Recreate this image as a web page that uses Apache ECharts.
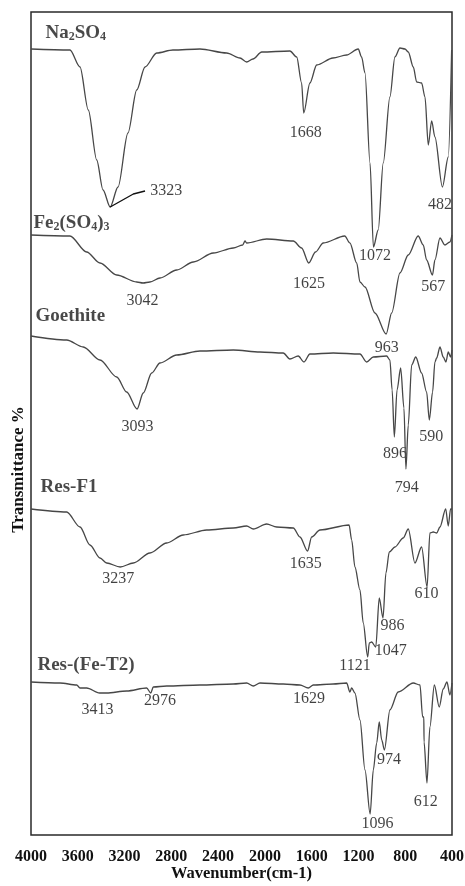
<!DOCTYPE html>
<html>
<head>
<meta charset="utf-8">
<style>
  html, body { margin: 0; padding: 0; background: #fff; }
  #chart { width: 465px; height: 886px; }
</style>
<script src="https://cdn.jsdelivr.net/npm/echarts@6/dist/echarts.min.js"></script>
</head>
<body>
<div id="chart"></div>
<script>
// wavenumber axis (cm-1)
const xTicks = [4000, 3600, 3200, 2800, 2400, 2000, 1600, 1200, 800, 400];

// stacked spectra, [wavenumber, transmittance (offset, a.u.)]
const na2so4 = [
  [4000, 78.6], [3667, 78.5], [3581, 76.8], [3510, 72.5], [3438, 67.5], [3384, 64.5],
  [3323, 62.8], [3256, 64.8], [3171, 70.2], [3096, 74.5], [3025, 76.8], [2925, 78.2],
  [2786, 78.5], [2555, 78.6], [2327, 78.2], [2213, 77.7], [2156, 77.3], [2102, 77.6],
  [2027, 78.3], [1786, 78.4], [1728, 77.8], [1686, 75.2], [1668, 72.2], [1615, 75.2],
  [1557, 77.0], [1418, 77.7], [1301, 78.0], [1202, 78.6], [1173, 77.8], [1144, 76.2],
  [1101, 67.2], [1072, 58.8], [1031, 60.5], [988, 67.2], [931, 73.8], [888, 77.8],
  [845, 78.7], [802, 78.6], [774, 78.3], [731, 76.8], [702, 75.3], [660, 75.2],
  [631, 73.8], [603, 69.0], [574, 71.4], [546, 69.8], [482, 64.8], [432, 67.8], [403, 78.5]
];

const fe2so43 = [
  [4000, 60.0], [3667, 59.9], [3524, 58.3], [3410, 57.2], [3267, 56.0], [3096, 55.3],
  [3042, 55.2], [2983, 55.3], [2897, 55.7], [2754, 56.5], [2612, 57.3], [2441, 58.2],
  [2270, 58.7], [2190, 59.0], [2170, 59.4], [2156, 59.2], [1985, 59.6], [1757, 59.4],
  [1686, 58.7], [1625, 57.2], [1567, 58.3], [1501, 59.2], [1317, 59.9], [1273, 59.2],
  [1215, 57.2], [1187, 55.3], [1144, 54.8], [1059, 52.2], [963, 50.1], [916, 52.2],
  [845, 56.2], [774, 58.0], [689, 59.9], [646, 59.0], [617, 57.5], [567, 56.0],
  [546, 57.5], [503, 59.7], [461, 59.0], [418, 59.3], [400, 60.0]
];

const goethite = [
  [4000, 49.9], [3695, 49.5], [3553, 48.8], [3410, 47.5], [3267, 45.8], [3182, 44.3],
  [3093, 42.6], [3040, 44.2], [2968, 46.2], [2897, 47.2], [2754, 48.0], [2555, 48.4],
  [2270, 48.5], [2042, 48.3], [1843, 48.2], [1786, 47.6], [1715, 47.9], [1666, 47.3],
  [1615, 48.1], [1415, 48.2], [1187, 48.1], [1130, 47.3], [1073, 47.8], [959, 47.9],
  [931, 47.5], [912, 44.5], [893, 39.8], [870, 44.5], [839, 46.7], [811, 42.7],
  [794, 36.6], [774, 41.0], [745, 47.0], [710, 47.8], [660, 46.2], [617, 44.3],
  [594, 41.5], [566, 44.3], [546, 47.3], [531, 47.7], [503, 48.8], [475, 47.8],
  [452, 47.3], [432, 48.3], [412, 47.8], [400, 48.5]
];

const resF1 = [
  [4000, 32.6], [3695, 32.3], [3581, 30.8], [3496, 29.0], [3410, 27.7], [3353, 27.2],
  [3237, 26.8], [3125, 27.2], [2983, 28.2], [2840, 29.2], [2698, 30.0], [2498, 30.5],
  [2270, 30.7], [2156, 30.9], [2099, 30.6], [1985, 31.1], [1899, 30.8], [1757, 30.7],
  [1700, 29.8], [1635, 28.4], [1600, 29.8], [1529, 30.5], [1280, 31.0], [1258, 29.5],
  [1230, 26.8], [1187, 24.5], [1159, 21.2], [1121, 17.8], [1107, 19.2], [1087, 19.3],
  [1052, 18.8], [1022, 23.7], [990, 21.7], [965, 26.2], [936, 28.3], [888, 28.8],
  [817, 29.7], [774, 30.6], [717, 27.2], [660, 28.8], [613, 24.8], [589, 30.2],
  [560, 30.3], [531, 30.2], [503, 30.8], [454, 32.6], [432, 30.9], [412, 32.6], [400, 32.6]
];

const resFeT2 = [
  [4000, 15.3], [3752, 15.2], [3609, 15.0], [3581, 14.7], [3524, 14.7], [3413, 14.2],
  [3353, 14.2], [3182, 14.4], [3011, 14.7], [2976, 14.2], [2954, 14.8], [2840, 14.9],
  [2555, 15.0], [2270, 15.1], [2156, 15.2], [2099, 14.9], [2042, 15.2], [1843, 15.1],
  [1700, 15.0], [1629, 14.7], [1586, 15.0], [1415, 15.1], [1301, 15.2], [1273, 14.3],
  [1258, 14.7], [1230, 14.2], [1187, 11.5], [1144, 6.5], [1100, 2.1], [1073, 6.5],
  [1044, 9.2], [1022, 11.3], [1001, 9.5], [978, 8.5], [931, 12.5], [860, 14.3],
  [731, 15.2], [674, 15.0], [651, 11.8], [641, 11.8], [639, 9.3], [614, 5.2],
  [589, 10.8], [551, 15.0], [509, 12.8], [475, 14.6], [443, 15.3], [418, 14.0], [400, 15.2]
];

const spectra = [na2so4, fe2so43, goethite, resF1, resFeT2];

// sample names (rich text, subscripts in {s|..}) and where they sit
const sampleNames = ['Na{s|2}SO{s|4}', 'Fe{s|2}(SO{s|4}){s|3}', 'Goethite', 'Res-F1', 'Res-(Fe-T2)'];
const sampleNameAt = [[3880, 80.2], [3983, 61.2], [3966, 51.9], [3923, 34.8], [3949, 17.0]];

// peak numbers: [wavenumber, transmittance, text] (label centre)
const peakLabels = [
  [2843, 64.4, '3323'], [1650, 70.2, '1668'], [503, 63.0, '482'],
  [1059, 57.9, '1072'], [3047, 53.4, '3042'], [1623, 55.1, '1625'], [560, 54.8, '567'],
  [959, 48.7, '963'], [3089, 40.8, '3093'], [888, 38.1, '896'], [577, 39.8, '590'],
  [788, 34.7, '794'], [3254, 25.6, '3237'], [1650, 27.1, '1635'], [617, 24.1, '610'],
  [909, 20.9, '986'], [924, 18.4, '1047'], [1230, 16.9, '1121'],
  [3431, 12.5, '3413'], [2897, 13.4, '2976'], [1623, 13.6, '1629'],
  [939, 7.5, '974'], [624, 3.3, '612'], [1037, 1.1, '1096']
];

// leader line from the 3323 band to its number
const leader3323 = [[3323, 62.8], [3125, 64.1], [3025, 64.4]];

const FONT = '"Liberation Serif", "Times New Roman", serif';
const chart = echarts.init(document.getElementById('chart'));

const lineSeries = spectra.map(d => ({
  type: 'line',
  data: d,
  symbol: 'none',
  smooth: 0.3,
  smoothMonotone: 'x',
  lineStyle: { color: '#474747', width: 1.3 },
  silent: true
}));

chart.setOption({
  animation: false,
  backgroundColor: '#fff',
  grid: {
    left: 31, right: 13, top: 12, bottom: 51,
    outerBoundsMode: 'none',
    show: true, borderColor: '#2a2a2a', borderWidth: 1.5, backgroundColor: 'transparent'
  },
  xAxis: {
    type: 'value',
    inverse: true,
    min: xTicks[xTicks.length - 1],
    max: xTicks[0],
    interval: xTicks[0] - xTicks[1],
    axisLine: { show: false },
    axisTick: { show: false },
    splitLine: { show: false },
    axisLabel: {
      color: '#111', fontFamily: FONT, fontWeight: 'bold', fontSize: 16, margin: 14,
      showMinLabel: true, showMaxLabel: true,
      formatter: v => String(v)
    },
    name: 'Wavenumber(cm-1)',
    nameLocation: 'middle',
    nameGap: 30,
    nameMoveOverlap: false,
    nameTextStyle: { color: '#111', fontFamily: FONT, fontWeight: 'bold', fontSize: 16.5 }
  },
  yAxis: {
    type: 'value',
    min: 0,
    max: 82.3,
    axisLine: { show: false },
    axisTick: { show: false },
    axisLabel: { show: false },
    splitLine: { show: false },
    name: 'Transmittance %',
    nameLocation: 'middle',
    nameGap: 4,
    nameRotate: 90,
    nameTextStyle: {
      color: '#111', fontFamily: FONT, fontWeight: 'bold', fontSize: 17,
      padding: [0, 92, 0, 0]
    }
  },
  series: [
    ...lineSeries,
    {
      type: 'line',
      data: leader3323,
      symbol: 'none',
      lineStyle: { color: '#111', width: 1.4 },
      silent: true
    },
    {
      type: 'scatter',
      data: peakLabels,
      symbolSize: 1,
      itemStyle: { color: 'rgba(0,0,0,0)' },
      silent: true,
      label: {
        show: true,
        position: 'inside',
        formatter: p => p.data[2],
        color: '#111',
        fontFamily: FONT,
        fontSize: 16
      }
    },
    {
      type: 'scatter',
      data: sampleNameAt.map((c, i) => [c[0], c[1], sampleNames[i]]),
      symbolSize: 1,
      itemStyle: { color: 'rgba(0,0,0,0)' },
      silent: true,
      label: {
        show: true,
        position: 'right',
        distance: 0,
        formatter: p => p.data[2],
        color: '#1a1a1a',
        fontFamily: FONT,
        fontWeight: 'bold',
        fontSize: 19,
        lineHeight: 20,
        rich: {
          s: { fontFamily: FONT, fontWeight: 'bold', fontSize: 12, color: '#1a1a1a', verticalAlign: 'bottom', lineHeight: 10 }
        }
      }
    }
  ]
});
</script>
</body>
</html>
